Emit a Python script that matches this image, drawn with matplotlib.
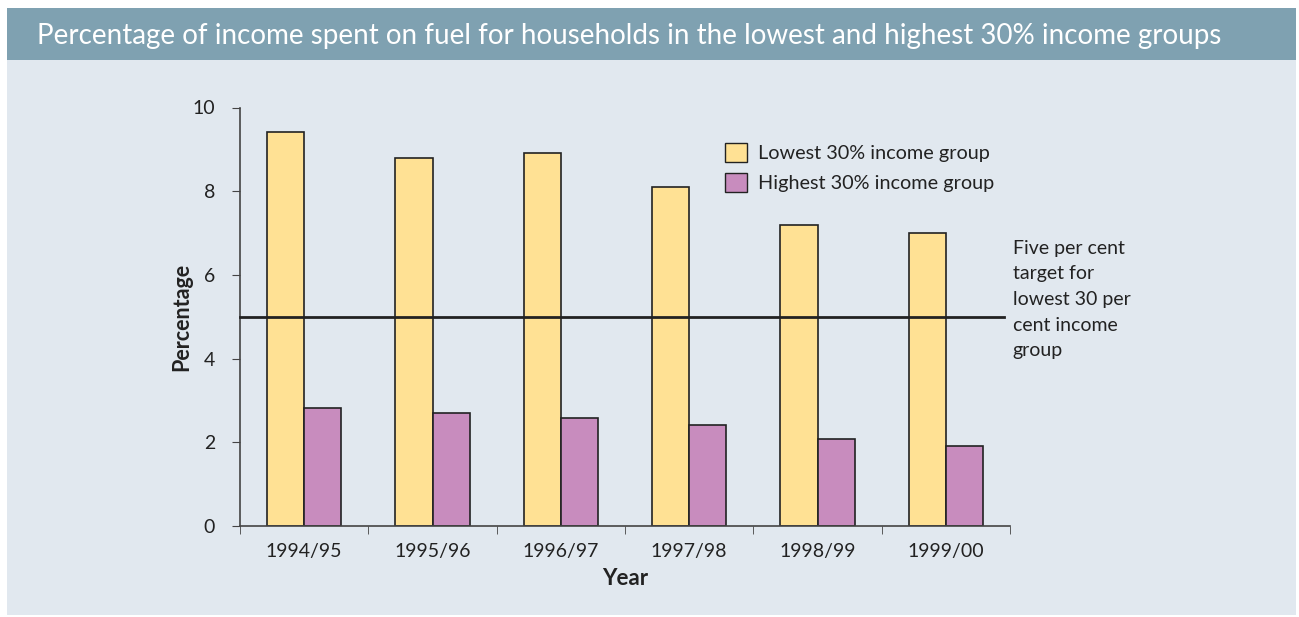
import matplotlib
matplotlib.use("Agg")
import matplotlib.pyplot as plt
from matplotlib.patches import Rectangle, Patch
import numpy as np

years = ["1994/95", "1995/96", "1996/97", "1997/98", "1998/99", "1999/00"]
lowest = [9.41, 8.79, 8.91, 8.10, 7.19, 7.00]
highest = [2.82, 2.70, 2.58, 2.41, 2.08, 1.91]
target = 5
series_names = ["Lowest 30% income group", "Highest 30% income group"]
title = "Percentage of income spent on fuel for households in the lowest and highest 30% income groups"
note = "Five per cent\ntarget for\nlowest 30 per\ncent income\ngroup"

plt.rcParams['font.family'] = ['Lato', 'DejaVu Sans']
W, H = 1299, 617
fig = plt.figure(figsize=(W / 100, H / 100), dpi=100)
fig.patch.set_facecolor("white")

# panel background and title bar
fig.add_artist(Rectangle((7 / W, 1 - 615 / H), (1296 - 7) / W, (615 - 60) / H,
                         transform=fig.transFigure, facecolor="#E1E8EF", edgecolor="none", zorder=0))
fig.add_artist(Rectangle((7 / W, 1 - 60 / H), (1296 - 7) / W, (60 - 8) / H,
                         transform=fig.transFigure, facecolor="#7FA1B1", edgecolor="none", zorder=0))
fig.text(37 / W, 1 - 36 / H, title, color="white", fontsize=20, va="center", ha="left")

ax = fig.add_axes([240 / W, 1 - 526 / H, (1010 - 240) / W, (526 - 107.5) / H])
ax.set_facecolor("none")
x = np.arange(len(years))
w = 0.29
ax.bar(x - w / 2, lowest, w, color="#FFE194", edgecolor="#222222", linewidth=1.2, label=series_names[0], zorder=2)
ax.bar(x + w / 2, highest, w, color="#C88CBE", edgecolor="#222222", linewidth=1.2, label=series_names[1], zorder=2)
ax.set_xlim(-0.5, len(years) - 0.5)
ax.set_ylim(0, 10)
ax.set_yticks([0, 2, 4, 6, 8, 10])
ax.set_xticks(x)
ax.set_xticklabels(years)
ax.set_xticks(np.arange(-0.5, len(years)), minor=True)
ax.tick_params(axis="x", which="major", length=0, pad=12, labelsize=14, colors="#222222")
ax.tick_params(axis="x", which="minor", length=6, direction="out", color="#444444")
ax.tick_params(axis="y", length=6, direction="out", color="#444444", labelsize=14, pad=12, labelcolor="#222222")
for s in ["top", "right"]:
    ax.spines[s].set_visible(False)
for s in ["left", "bottom"]:
    ax.spines[s].set_color("#444444")
    ax.spines[s].set_linewidth(1.2)

ax.plot([-0.5, 5.45], [target, target], color="#222222", linewidth=2, clip_on=False, zorder=3)
ax.text(5.52, 6.84, note, fontsize=14, va="top", ha="left", color="#222222", linespacing=1.62)

ax.set_ylabel("Percentage", fontsize=15.5, fontweight="bold", labelpad=0, color="#222222")
ax.set_xlabel("Year", fontsize=16, fontweight="bold", labelpad=6, color="#222222")

handles = [Patch(facecolor="#FFE194", edgecolor="#222222"), Patch(facecolor="#C88CBE", edgecolor="#222222")]
ax.legend(handles, series_names, loc="upper left", bbox_to_anchor=(485 / 770, 1 - 35 / 418.5),
          frameon=False, fontsize=14.3, handlelength=1.1, handleheight=1.1, handletextpad=0.55,
          labelspacing=0.55, borderaxespad=0, borderpad=0, labelcolor="#222222")

fig.savefig("out.png", dpi=100, facecolor=fig.get_facecolor())
